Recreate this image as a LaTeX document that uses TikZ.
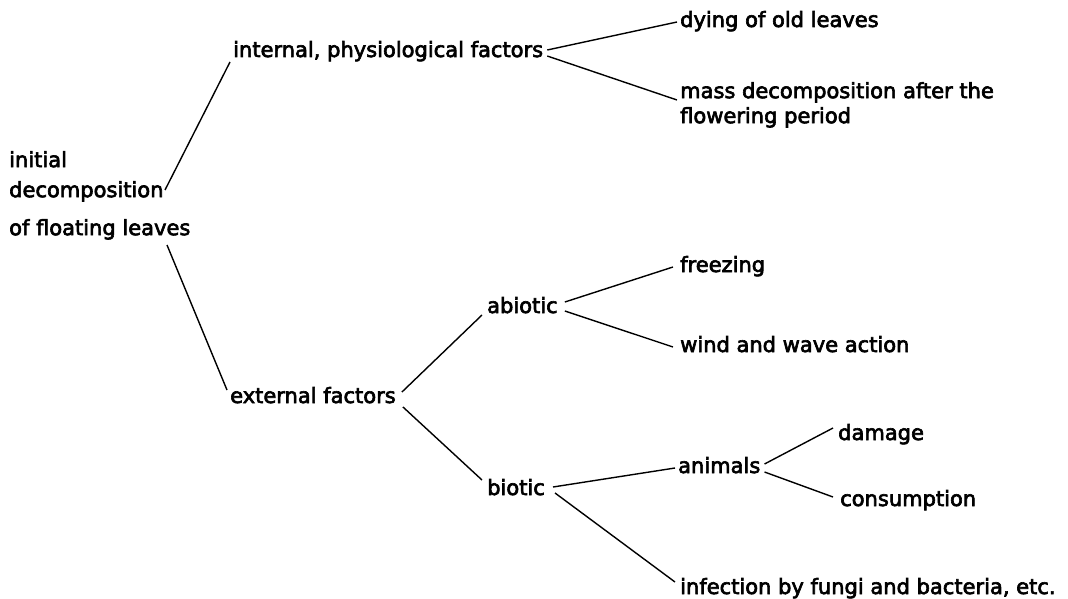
\documentclass[tikz,border=0pt]{standalone}
\usepackage{fontspec}
\setmainfont{DejaVu Sans}[FakeBold=3]
\tikzset{
    lbl/.style={inner sep=0pt, anchor=base west, font=\fontsize{21}{30}\selectfont},
    lblblock/.style={inner sep=0pt, anchor=north west, align=left},
    branch/.style={draw=black, line width=1.4pt, solid}
}
\begin{document}
\begin{tikzpicture}[x=1pt, y=-1pt]
            \useasboundingbox (0,0) rectangle (1068,599);
            \node[lblblock, font=\fontsize{21}{30}\selectfont] (root) at (9,151) {initial\\decomposition\\[8pt]of floating leaves};
            \node[lbl] (int) at (233,57) {internal, physiological factors};
            \node[lbl] (dying) at (680,27) {dying of old leaves};
            \node[lblblock, font=\fontsize{21}{25}\selectfont] (mass) at (680,82) {mass decomposition after the\\flowering period};
            \node[lbl] (ext) at (230,403) {external factors};
            \node[lbl] (abiotic) at (487,313) {abiotic};
            \node[lbl] (freezing) at (680,272) {freezing};
            \node[lbl] (wind) at (680,352) {wind and wave action};
            \node[lbl] (biotic) at (487,495) {biotic};
            \node[lbl] (animals) at (678,473) {animals};
            \node[lbl] (damage) at (838,440) {damage};
            \node[lbl] (consumption) at (840,506) {consumption};
            \node[lbl] (infection) at (680,594) {infection by fungi and bacteria, etc.};
            \draw[branch] ([xshift=156pt,yshift=-39pt]root.north west) -- ([xshift=-3pt,yshift=-5pt]int.base west);
            \draw[branch] ([xshift=158pt,yshift=-94pt]root.north west) -- ([xshift=-3pt,yshift=13pt]ext.base west);
            \draw[branch] ([xshift=4pt,yshift=7pt]int.base east) -- ([xshift=-3pt,yshift=5pt]dying.base west);
            \draw[branch] ([xshift=4pt,yshift=1pt]int.base east) -- ([xshift=-3pt,yshift=-18pt]mass.north west);
            \draw[branch] ([xshift=6pt,yshift=11pt]ext.base east) -- ([xshift=-5pt,yshift=-2pt]abiotic.base west);
            \draw[branch] ([xshift=7pt,yshift=-4pt]ext.base east) -- ([xshift=-5pt,yshift=15pt]biotic.base west);
            \draw[branch] ([xshift=7pt,yshift=11pt]abiotic.base east) -- ([xshift=-7pt,yshift=5pt]freezing.base west);
            \draw[branch] ([xshift=7pt,yshift=2pt]abiotic.base east) -- ([xshift=-7pt,yshift=5pt]wind.base west);
            \draw[branch] ([xshift=8pt,yshift=8pt]biotic.base east) -- ([xshift=-3pt,yshift=5pt]animals.base west);
            \draw[branch] ([xshift=10pt,yshift=2pt]biotic.base east) -- ([xshift=-5pt,yshift=12pt]infection.base west);
            \draw[branch] ([xshift=4pt,yshift=9pt]animals.base east) -- ([xshift=-5pt,yshift=12pt]damage.base west);
            \draw[branch] ([xshift=4pt,yshift=1pt]animals.base east) -- ([xshift=-7pt,yshift=9pt]consumption.base west);
        \end{tikzpicture}
\end{document}
